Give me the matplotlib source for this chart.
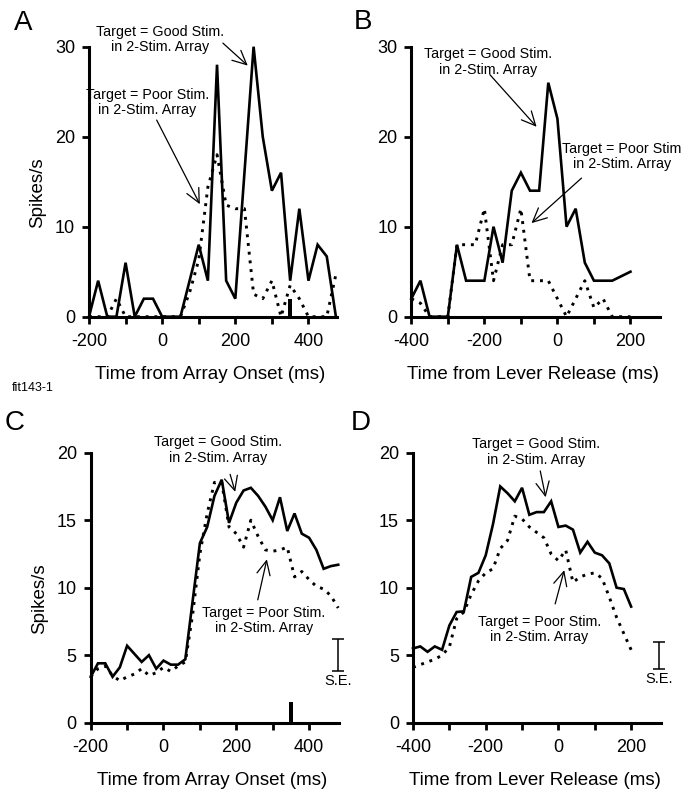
#==============================================================================
# load libraries
#==============================================================================
import numpy as np
import matplotlib.pyplot as plt

plt.rcParams['font.family'] = ['Liberation Sans', 'DejaVu Sans']

#==============================================================================
# data
#==============================================================================
# A: single cell, aligned on array onset, 25 ms bins
t_a = np.arange(-200, 476, 25)
good_a = [0, 4, 0, 0, 6, 0, 2, 2, 0, 0, 0, 4, 8, 4, 28, 4, 2, 16, 30, 20,
          14, 16, 4, 12, 4, 8, 6.7, 0]
poor_a = [0, 0, 0, 2, 0, 0, 0, 0, 0, 0, 0, 2.7, 6.3, 14.4, 18, 12.4, 12, 12,
          2.5, 2, 4, 0, 3.5, 2, 0, 0, 0, 4.7]

# B: single cell, aligned on lever release, 25 ms bins
t_b = np.arange(-400, 201, 25)
good_b = [2, 4, 0, 0, 0, 8, 4, 4, 4, 10, 6, 14, 16, 14, 14, 26, 22, 10, 12,
          6, 4, 4, 4, 4.5, 5]
poor_b = [2, 1.5, 0, 0, 0, 8, 8, 8, 12, 4, 8, 8, 12, 4, 4, 4, 2, 0, 2, 4, 1,
          2, 0, 0, 0]

# C: population, aligned on array onset, 20 ms bins
t_c = np.arange(-200, 481, 20)
good_c = [3.4, 4.4, 4.4, 3.4, 4.1, 5.7, 5.1, 4.5, 5.0, 4.0, 4.6, 4.3, 4.3, 4.7,
          9.0, 13.3, 14.5, 16.8, 18.0, 14.8, 16.3, 17.2, 17.4, 16.8, 16.0,
          15.0, 16.7, 14.2, 15.5, 14.0, 13.7, 12.8, 11.4, 11.6, 11.7]
poor_c = [3.4, 4.0, 4.2, 3.5, 3.1, 3.4, 3.6, 4.0, 3.5, 3.7, 4.1, 3.8, 4.2, 4.5,
          8.0, 12.5, 15.5, 17.8, 17.8, 14.5, 14.0, 13.0, 15.0, 13.8, 12.8,
          12.7, 12.8, 13.0, 10.8, 11.2, 10.6, 10.1, 9.9, 9.4, 8.5]

# D: population, aligned on lever release, 20 ms bins
t_d = np.arange(-400, 201, 20)
good_d = [5.5, 5.65, 5.25, 5.65, 5.4, 7.2, 8.2, 8.25, 10.8, 11.1, 12.4, 14.7,
          17.5, 17.0, 16.4, 17.4, 15.4, 15.6, 15.6, 16.4, 14.5, 14.6, 14.3,
          12.6, 13.4, 12.6, 12.4, 11.8, 10.0, 9.9, 8.6]
poor_d = [4.1, 4.3, 4.5, 4.7, 5.0, 5.6, 7.7, 8.2, 9.5, 10.5, 11.1, 11.4, 12.9,
          13.5, 15.3, 15.1, 14.5, 14.1, 13.7, 12.5, 12.0, 12.8, 10.4, 10.8,
          11.0, 11.1, 10.7, 9.3, 7.8, 6.6, 5.4]

# mean reaction time marker (A, C) and standard error bars (C, D)
rt_time = 350
rt_height_a = 2
rt_height_c = 1.5
se_c = (480, 3.85, 6.2)
se_d = (278, 4.0, 6.0)

good_label = 'Target = Good Stim.\nin 2-Stim. Array'
poor_label = 'Target = Poor Stim.\nin 2-Stim. Array'
poor_label_b = 'Target = Poor Stim\nin 2-Stim. Array'

#==============================================================================
# helpers
#==============================================================================
def plot_panel(ax, t, good, poor, xlim, ylim, yticks, xlabel, ylabel=None):
    ax.plot(t, good, color='black', lw=1.9, clip_on=False,
            solid_joinstyle='miter')
    ax.plot(t, poor, color='black', lw=2.1, linestyle=(0, (1, 2)),
            clip_on=False)
    ax.set_xlim(*xlim)
    ax.set_ylim(*ylim)
    major = np.arange(xlim[0], xlim[1] + 1, 100)
    ax.set_xticks(major)
    ax.set_xticklabels([str(v) if v % 200 == 0 else '' for v in major])
    ax.set_yticks(yticks)
    for side in ['top', 'right']:
        ax.spines[side].set_visible(False)
    for side in ['left', 'bottom']:
        ax.spines[side].set_linewidth(2.2)
    ax.tick_params(direction='out', length=5, width=2, labelsize=13)
    ax.tick_params(axis='x', pad=7)
    ax.tick_params(axis='y', pad=5)
    ax.set_xlabel(xlabel, fontsize=13.5, va='center')
    ax.xaxis.set_label_coords(0.49, -0.215)
    if ylabel:
        ax.set_ylabel(ylabel, fontsize=13.5, va='center')
        ax.yaxis.set_label_coords(-0.206, 0.46)


def label_arrow(ax, text, text_xy, start, end):
    ax.text(text_xy[0], text_xy[1], text, ha='center', va='center',
            fontsize=10.3, linespacing=1.1)
    ax.annotate('', xy=end, xytext=start,
                arrowprops=dict(arrowstyle='->,head_length=0.5,head_width=0.24',
                                mutation_scale=20, color='black', lw=0.9,
                                shrinkA=0, shrinkB=0))


def se_bar(ax, se):
    x, lo, hi = se
    ax.errorbar([x], [(lo + hi) / 2], yerr=[(hi - lo) / 2], color='black',
                lw=1.1, capsize=4, capthick=1.1, clip_on=False)
    ax.text(x, lo - 0.75, 'S.E.', ha='center', va='center', fontsize=10.5)

#==============================================================================
# figure
#==============================================================================
W, H = 696, 794
fig = plt.figure(figsize=(W / 100, H / 100), dpi=100)
ax_a = fig.add_axes([89 / W, 1 - 316.7 / H, 248 / W, 270 / H])
ax_b = fig.add_axes([411.3 / W, 1 - 316.7 / H, 248.4 / W, 270 / H])
ax_c = fig.add_axes([90.7 / W, 1 - 722.7 / H, 248.6 / W, 270 / H])
ax_d = fig.add_axes([413 / W, 1 - 722.7 / H, 248.3 / W, 270 / H])

#------------------------------------------------------------------------------
# A
#------------------------------------------------------------------------------
plot_panel(ax_a, t_a, good_a, poor_a, (-200, 478), (0, 30), [0, 10, 20, 30],
           'Time from Array Onset (ms)', 'Spikes/s')
ax_a.bar(rt_time, rt_height_a, width=11, color='black', clip_on=False)
label_arrow(ax_a, good_label, (-5, 30.8), (166, 30.4), (234, 27.9))
label_arrow(ax_a, poor_label, (-41, 23.85), (-15, 21.85), (103, 12.5))

#------------------------------------------------------------------------------
# B
#------------------------------------------------------------------------------
plot_panel(ax_b, t_b, good_b, poor_b, (-400, 280), (0, 30), [0, 10, 20, 30],
           'Time from Lever Release (ms)')
label_arrow(ax_b, good_label, (-190, 28.3), (-185, 26.9), (-57, 21.1))
label_arrow(ax_b, poor_label_b, (177, 17.85), (66, 15.4), (-71, 10.4))

#------------------------------------------------------------------------------
# C
#------------------------------------------------------------------------------
plot_panel(ax_c, t_c, good_c, poor_c, (-200, 483), (0, 20), [0, 5, 10, 15, 20],
           'Time from Array Onset (ms)', 'Spikes/s')
ax_c.bar(rt_time, rt_height_c, width=11, color='black', clip_on=False)
label_arrow(ax_c, good_label, (151, 20.2), (183, 18.4), (197, 17.1))
label_arrow(ax_c, poor_label, (276, 7.55), (259, 9.1), (284, 12.1))
se_bar(ax_c, se_c)

#------------------------------------------------------------------------------
# D
#------------------------------------------------------------------------------
plot_panel(ax_d, t_d, good_d, poor_d, (-400, 283), (0, 20), [0, 5, 10, 15, 20],
           'Time from Lever Release (ms)')
label_arrow(ax_d, good_label, (-62, 20.05), (-50, 18.65), (-35, 16.7))
label_arrow(ax_d, poor_label, (-53, 6.9), (-9, 8.8), (16, 11.3))
se_bar(ax_d, se_d)

#------------------------------------------------------------------------------
# panel letters and id
#------------------------------------------------------------------------------
for letter, (px, py) in zip('ABCD', [(23, 23), (363, 22), (15, 423), (361, 423)]):
    fig.text(px / W, 1 - py / H, letter, fontsize=20, ha='center', va='center')
fig.text(33 / W, 1 - 388 / H, 'fit143-1', fontsize=9, ha='center', va='center')

#------------------------------------------------------------------------------
# save the figure
#------------------------------------------------------------------------------
fig.savefig('out.png', dpi=100)
